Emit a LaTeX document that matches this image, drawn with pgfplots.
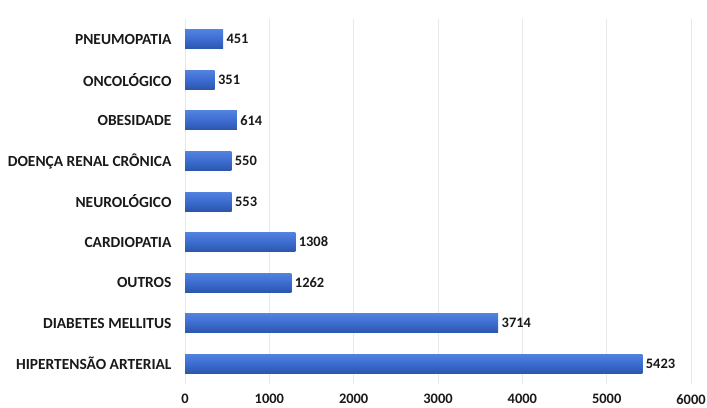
\documentclass[border=0pt]{standalone}
\usepackage{fontspec}
\setmainfont{Carlito}
\usepackage{pgfplots}
\pgfplotsset{compat=1.18}
\definecolor{barTop}{HTML}{5282DE}
\definecolor{barMid}{HTML}{3C6CD0}
\definecolor{barBot}{HTML}{2C56AC}
\definecolor{gridc}{HTML}{E8E8E8}
\pgfplotsset{barsty/.style={draw=none, top color=barTop, bottom color=barBot, middle color=barMid}}
\begin{document}
\begin{tikzpicture}[x=1bp,y=1bp]
\useasboundingbox (0,0) rectangle (707,407);
\begin{axis}[
  at={(185bp,23bp)}, anchor=south west,
  scale only axis, width=506bp, height=365bp,
  xmin=0, xmax=6000, ymin=-0.5, ymax=8.5,
  xbar, bar width=19bp, bar shift=0pt,
  axis line style={draw=none},
  xtick={0,1000,...,6000},
  ytick={0,...,8},
  yticklabels={HIPERTENSÃO ARTERIAL, DIABETES MELLITUS, OUTROS, CARDIOPATIA, NEUROLÓGICO, DOENÇA RENAL CRÔNICA, OBESIDADE, ONCOLÓGICO, PNEUMOPATIA},
  xmajorgrids, grid style={gridc, line width=0.8pt},
  major tick length=0pt,
  scaled ticks=false,
  /pgf/number format/assume math mode=true,
  /pgf/number format/set thousands separator={},
  xticklabel style={font=\fontsize{14.5}{16}\selectfont\bfseries, text=black!90, yshift=-7bp},
  yticklabel style={font=\fontsize{15.5}{17}\selectfont\bfseries, text=black!90, xshift=-10bp},
  nodes near coords,
  every node near coord/.append style={font=\fontsize{14.5}{16}\selectfont\bfseries, text=black!90},
  clip=false,
]
\addplot[barsty] coordinates {(5423,0)};
\addplot[barsty] coordinates {(3714,1)};
\addplot[barsty] coordinates {(1262,2)};
\addplot[barsty] coordinates {(1308,3)};
\addplot[barsty] coordinates {(553,4)};
\addplot[barsty] coordinates {(550,5)};
\addplot[barsty] coordinates {(614,6)};
\addplot[barsty] coordinates {(351,7)};
\addplot[barsty] coordinates {(451,8)};
\end{axis}
\end{tikzpicture}
\end{document}
